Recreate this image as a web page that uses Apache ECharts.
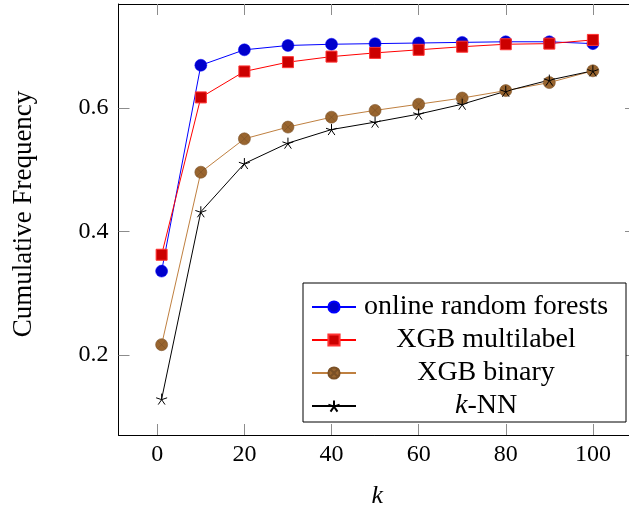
<!DOCTYPE html>
<html>
<head>
<meta charset="utf-8">
<script src="https://cdn.jsdelivr.net/npm/echarts@6/dist/echarts.min.js"></script>
<style>
  html, body { margin: 0; padding: 0; background: #fff; }
  #chart { width: 629px; height: 508px; }
</style>
</head>
<body>
<div id="chart"></div>
<script>
// k values on the x axis
const kValues = [1, 10, 20, 30, 40, 50, 60, 70, 80, 90, 100]

// cumulative frequency per method
const onlineRandomForests = [0.336, 0.669, 0.694, 0.701, 0.703, 0.704, 0.705, 0.706, 0.707, 0.707, 0.704]
const xgbMultilabel = [0.3625, 0.617, 0.659, 0.674, 0.683, 0.689, 0.694, 0.699, 0.703, 0.704, 0.710]
const xgbBinary = [0.217, 0.496, 0.550, 0.569, 0.585, 0.596, 0.606, 0.616, 0.628, 0.641, 0.660]
const kNN = [0.129, 0.432, 0.510, 0.543, 0.565, 0.577, 0.590, 0.606, 0.627, 0.645, 0.660]

// tick labels
const xTicks = [0, 20, 40, 60, 80, 100]
const yTicks = [0.2, 0.4, 0.6]

const serif = '"Liberation Serif", "Times New Roman", serif'

// pgfplots style: 10% extra room on each side of the data
const allY = [].concat(onlineRandomForests, xgbMultilabel, xgbBinary, kNN)
const yLo = Math.min(...allY), yHi = Math.max(...allY)
const yPad = (yHi - yLo) * 0.1
const xPad = (kValues[kValues.length - 1] - kValues[0]) * 0.1

const pairs = ys => kValues.map((k, i) => [k, ys[i]])

// marker shapes
const otimes = 'path://M0,10 A10,10 0 1,1 20,10 A10,10 0 1,1 0,10 Z M2.93,2.93 L17.07,17.07 M17.07,2.93 L2.93,17.07'
const asterisk = 'path://M10,10 L10,0 M10,10 L19.51,6.91 M10,10 L15.88,18.09 M10,10 L4.12,18.09 M10,10 L0.49,6.91'

const tickStyle = { lineStyle: { color: '#8c8c8c', width: 1 } }
const frameLine = { show: true, onZero: false, lineStyle: { color: '#000', width: 1 } }

const xBase = {
  type: 'value',
  min: kValues[0] - xPad,
  max: kValues[kValues.length - 1] + xPad,
  splitLine: { show: false },
  axisLine: frameLine,
  axisTick: { inside: true, length: 11, customValues: xTicks, ...tickStyle }
}
const yBase = {
  type: 'value',
  min: yLo - yPad,
  max: yHi + yPad,
  splitLine: { show: false },
  axisLine: frameLine,
  axisTick: { inside: true, length: 11, customValues: yTicks, ...tickStyle }
}

const chart = echarts.init(document.getElementById('chart'), null, { renderer: 'canvas' })

chart.setOption({
  animation: false,
  backgroundColor: '#fff',
  grid: { left: 118.5, top: 4, width: 517.5, height: 431, containLabel: false, outerBoundsMode: 'none' },
  xAxis: [
    {
      ...xBase,
      position: 'bottom',
      name: 'k',
      nameLocation: 'middle',
      nameGap: 48,
      nameTextStyle: { fontFamily: serif, fontSize: 26, fontStyle: 'italic', color: '#000' },
      axisLabel: { customValues: xTicks, margin: 8, fontFamily: serif, fontSize: 24, color: '#000' }
    },
    { ...xBase, position: 'top', axisLabel: { show: false } }
  ],
  yAxis: [
    {
      ...yBase,
      position: 'left',
      name: 'Cumulative Frequency',
      nameLocation: 'middle',
      nameGap: 81,
      nameTextStyle: { fontFamily: serif, fontSize: 27, color: '#000', padding: [0, 0, 0, 11] },
      axisLabel: { customValues: yTicks, margin: 10, fontFamily: serif, fontSize: 24, color: '#000',
        formatter: v => v.toFixed(1) }
    },
    { ...yBase, position: 'right', axisLabel: { show: false } }
  ],
  legend: {
    orient: 'vertical',
    left: 303,
    top: 283,
    padding: [10, 15, 2, 8],
    itemWidth: 44,
    itemHeight: 14,
    itemGap: 5,
    borderColor: '#000',
    borderWidth: 1,
    borderRadius: 0,
    backgroundColor: '#fff',
    selectedMode: false,
    formatter: name => name === 'k-NN' ? '{i|k}{n|-NN}' : '{c|' + name + '}',
    textStyle: {
      fontFamily: serif,
      fontSize: 28,
      color: '#000',
      lineHeight: 26,
      rich: {
        c: { width: 250, align: 'center', fontFamily: serif, fontSize: 28, lineHeight: 26 },
        i: { fontStyle: 'italic', padding: [0, 0, 0, 94], fontFamily: serif, fontSize: 28, lineHeight: 26 },
        n: { fontFamily: serif, fontSize: 28, lineHeight: 26 }
      }
    },
    data: ['online random forests', 'XGB multilabel', 'XGB binary', 'k-NN']
  },
  series: [
    {
      name: 'online random forests',
      type: 'line',
      data: pairs(onlineRandomForests),
      symbol: 'circle',
      symbolSize: 12,
      lineStyle: { color: '#0000ff', width: 1 },
      itemStyle: { color: '#0000cc', borderColor: '#0000ff', borderWidth: 0.5 }
    },
    {
      name: 'XGB multilabel',
      type: 'line',
      data: pairs(xgbMultilabel),
      symbol: 'rect',
      symbolSize: 11,
      lineStyle: { color: '#ff0000', width: 1 },
      itemStyle: { color: '#cc0000', borderColor: '#ff3333', borderWidth: 1 }
    },
    {
      name: 'XGB binary',
      type: 'line',
      data: pairs(xgbBinary),
      symbol: otimes,
      symbolSize: 12,
      lineStyle: { color: '#bf8040', width: 1 },
      itemStyle: { color: '#99652f', borderColor: '#7a5026', borderWidth: 0.6 }
    },
    {
      name: 'k-NN',
      type: 'line',
      data: pairs(kNN),
      symbol: asterisk,
      symbolSize: 11,
      lineStyle: { color: '#000', width: 1 },
      itemStyle: { color: 'rgba(0,0,0,0)', borderColor: '#000', borderWidth: 1 }
    }
  ]
})
</script>
</body>
</html>
